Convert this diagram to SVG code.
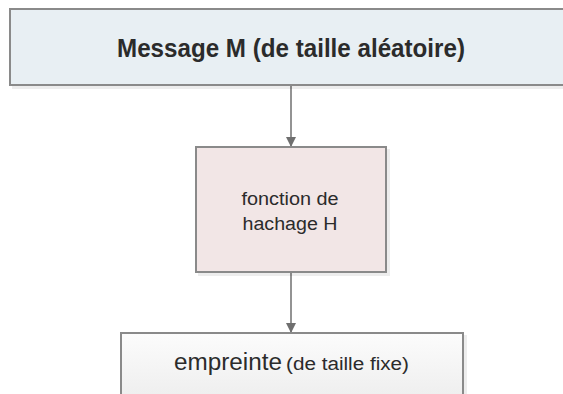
<svg xmlns="http://www.w3.org/2000/svg" width="563" height="394" viewBox="0 0 563 394">
  <style>
    .box { stroke: #8a8a8a; stroke-width: 2; }
    .conn { stroke: #6f6f6f; stroke-width: 1.5; fill: none; }
    .shadow { fill: #000; opacity: 0.07; }
    text { font-family: "Liberation Sans", Arial, sans-serif; fill: #2b2b2b; text-anchor: middle; }
  </style>
  <defs>
    <marker id="arrow" viewBox="0 0 10 10" refX="10" refY="5" markerWidth="10" markerHeight="10" markerUnits="userSpaceOnUse" orient="auto">
      <path d="M0,0 L10,5 L0,10 z" fill="#6f6f6f"/>
    </marker>
    <linearGradient id="gradOut" x1="0" y1="0" x2="0" y2="1">
      <stop offset="0" stop-color="#fcfcfc"/>
      <stop offset="1" stop-color="#ededed"/>
    </linearGradient>
  </defs>

  <rect width="563" height="394" fill="#ffffff"/>

  <g id="connectors">
    <line class="conn" x1="291" y1="86" x2="291" y2="147" marker-end="url(#arrow)"/>
    <line class="conn" x1="291" y1="273" x2="291" y2="333" marker-end="url(#arrow)"/>
  </g>

  <g id="message">
    <rect class="shadow" x="12" y="11" width="560" height="78"/>
    <rect class="box" x="10" y="9" width="560" height="76" fill="#e8eff3"/>
    <text x="291" y="57" font-size="25" font-weight="bold" textLength="348" lengthAdjust="spacingAndGlyphs">Message M (de taille aléatoire)</text>
  </g>

  <g id="hash">
    <rect class="shadow" x="198" y="149" width="192" height="127"/>
    <rect class="box" x="196" y="147" width="190" height="125" fill="#f2e6e6"/>
    <text x="290" y="205" font-size="18" textLength="97" lengthAdjust="spacingAndGlyphs">fonction de</text>
    <text x="290" y="230" font-size="18" textLength="95" lengthAdjust="spacingAndGlyphs">hachage H</text>
  </g>

  <g id="digest">
    <rect class="shadow" x="123" y="335" width="344" height="70"/>
    <rect class="box" x="121" y="333" width="342" height="70" fill="url(#gradOut)"/>
    <text x="228" y="370" font-size="23" textLength="108" lengthAdjust="spacingAndGlyphs">empreinte</text>
    <text x="347.5" y="370" font-size="18" textLength="123" lengthAdjust="spacingAndGlyphs">(de taille fixe)</text>
  </g>
</svg>
